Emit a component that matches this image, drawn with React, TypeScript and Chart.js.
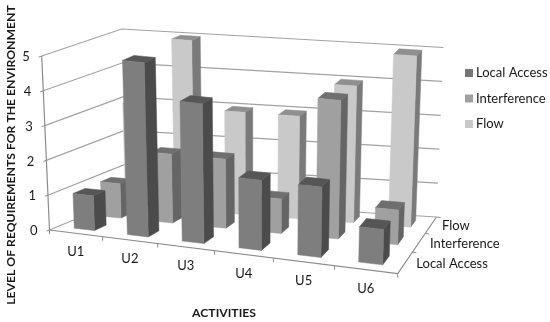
import React, { useEffect, useRef } from "react";
import { Chart, registerables } from "chart.js";

Chart.register(...registerables);

const categories = ["U1", "U2", "U3", "U4", "U5", "U6"];
const seriesNames = ["Local Access", "Interference", "Flow"];
const localAccess = [1, 5, 4, 2, 2, 1];
const interference = [1, 2, 2, 1, 4, 1];
const flow = [3, 5, 3, 3, 4, 5];
const seriesValues = [localAccess, interference, flow];
const frontColors = ["#7e7e7e", "#a0a0a0", "#c9c9c9"];
const sideColors = ["#4b4b4b", "#656565", "#7a7a7a"];
const topColors = ["#565656", "#6f6f6f", "#8f8f8f"];
const legendColors = ["#767676", "#a0a0a0", "#c8c8c8"];
const legendRows = [73, 98.5, 124];

const FONT = "Lato, 'Open Sans', sans-serif";
const TEXT = "#1a1a1a";
const AXIS = "#8c8c8c";
const BAR_U = 0.385 / 2; // half a bar, as a share of one category
const BAR_D = 0.21; // half a bar, as a share of one depth slot
const WARP_U = 1.11;
const WARP_D = 0.82;

type Pt = [number, number];
type Quad = [Pt, Pt, Pt, Pt];
const floorQuad: Quad = [[49.5, 230], [397.7, 273.7], [436.5, 217], [126.5, 198]];
const roofQuad: Quad = [[41.7, 56], [403, 96], [443.5, 47.5], [121.7, 29]];

const warp = (s: number, k: number) => s / (s + k * (1 - s));
const bilinear = (q: Quad, u: number, v: number): Pt => {
  const f = (i: 0 | 1) =>
    q[0][i] * (1 - u) * (1 - v) + q[1][i] * u * (1 - v) + q[2][i] * u * v + q[3][i] * (1 - u) * v;
  return [f(0), f(1)];
};
const project = (u: number, d: number, t: number): Pt => {
  const a = warp(u, WARP_U), b = warp(d, WARP_D);
  const p = bilinear(floorQuad, a, b);
  const r = bilinear(roofQuad, a, b);
  return [p[0] + (r[0] - p[0]) * t, p[1] + (r[1] - p[1]) * t];
};

const box3d = {
  id: "box3d",
  beforeDatasetDraw: () => false,
  afterDraw(chart: any) {
    const { ctx, scales } = chart;
    const xs = scales.x, ys = scales.y, ds = scales.depth;
    const U = (i: number) => (xs.getPixelForValue(i) - xs.left) / xs.width;
    const D = (j: number) => (ds.getPixelForValue(j) - ds.left) / ds.width;
    const T = (v: number) => (ys.bottom - ys.getPixelForValue(v)) / (ys.bottom - ys.top);
    const slotU = 1 / categories.length;
    const slotD = 1 / seriesNames.length;

    const line = (pts: Pt[], color: string, w: number) => {
      ctx.beginPath();
      pts.forEach((p, i) => (i ? ctx.lineTo(p[0], p[1]) : ctx.moveTo(p[0], p[1])));
      ctx.strokeStyle = color;
      ctx.lineWidth = w;
      ctx.stroke();
    };
    const face = (pts: Pt[], color: string) => {
      ctx.beginPath();
      pts.forEach((p, i) => (i ? ctx.lineTo(p[0], p[1]) : ctx.moveTo(p[0], p[1])));
      ctx.closePath();
      ctx.fillStyle = color;
      ctx.fill();
      ctx.strokeStyle = color;
      ctx.lineWidth = 0.5;
      ctx.stroke();
    };

    ctx.save();
    // walls
    ys.ticks.forEach((tick: any) => {
      const t = T(tick.value);
      line([project(0, 0, t), project(0, 1, t), project(1, 1, t)], "#a2a2a2", 1.2);
    });
    line([project(0, 0, 0), project(0, 0, 1)], AXIS, 1.2);
    line([project(0, 0, 0), project(1, 0, 0), project(1, 1, 0)], AXIS, 1.2);
    ys.ticks.forEach((tick: any) => {
      const p = project(0, 0, T(tick.value));
      line([p, [p[0] - 3, p[1] + 1]], AXIS, 1);
    });
    categories.forEach((_, i) => {
      const p = project((i + 1) * slotU, 0, 0);
      line([p, [p[0], p[1] + 4]], AXIS, 1);
    });
    line([project(0, 0, 0), [project(0, 0, 0)[0], project(0, 0, 0)[1] + 4]], AXIS, 1);
    seriesNames.forEach((_, j) => {
      const p = project(1, (j + 1) * slotD, 0);
      line([p, [p[0] + 4, p[1] + 0.5]], AXIS, 1);
    });

    // boxes, far row first, left to right
    for (let j = seriesNames.length - 1; j >= 0; j--) {
      const dc = D(j);
      const d0 = dc - BAR_D * slotD * 1, d1 = dc + BAR_D * slotD * 1;
      seriesValues[j].forEach((v, i) => {
        const uc = U(i);
        const u0 = uc - BAR_U * slotU, u1 = uc + BAR_U * slotU;
        const t = T(v);
        face([project(u1, d0, 0), project(u1, d1, 0), project(u1, d1, t), project(u1, d0, t)], sideColors[j]);
        face([project(u0, d0, t), project(u1, d0, t), project(u1, d1, t), project(u0, d1, t)], topColors[j]);
        face([project(u0, d0, 0), project(u1, d0, 0), project(u1, d0, t), project(u0, d0, t)], frontColors[j]);
      });
    }

    // text
    ctx.fillStyle = TEXT;
    ctx.font = `13px ${FONT}`;
    ctx.textBaseline = "middle";
    ctx.textAlign = "right";
    ys.ticks.forEach((tick: any) => {
      const p = project(0, 0, T(tick.value));
      ctx.fillText(String(tick.value), p[0] - 12, p[1] + 1);
    });
    ctx.textAlign = "center";
    categories.forEach((c, i) => {
      const p = project(U(i), 0, 0);
      ctx.fillText(c, p[0], p[1] + 19);
    });
    ctx.textAlign = "left";
    seriesNames.forEach((s, j) => {
      const p = project(1, D(j), 0);
      ctx.fillText(s, p[0] + 11, p[1] + 1);
    });
    seriesNames.forEach((s, j) => {
      ctx.fillStyle = legendColors[j];
      ctx.fillRect(465, legendRows[j] - 4, 8, 8);
      ctx.fillStyle = TEXT;
      ctx.fillText(s, 476, legendRows[j]);
    });
    ctx.font = `bold 12.2px ${FONT}`;
    ctx.textAlign = "center";
    ctx.fillText("ACTIVITIES", 224, 313);
    ctx.save();
    ctx.translate(11, 155);
    ctx.rotate(-Math.PI / 2);
    ctx.fillText("LEVEL OF REQUIREMENTS FOR THE ENVIRONMENT", 0, 0);
    ctx.restore();
    ctx.restore();
  },
};

export default function App() {
  const ref = useRef<HTMLCanvasElement>(null);
  useEffect(() => {
    const chart = new Chart(ref.current!, {
      type: "bar",
      data: {
        labels: categories,
        datasets: seriesNames.map((name, j) => ({
          label: name,
          data: seriesValues[j],
          backgroundColor: frontColors[j],
        })),
      },
      options: {
        responsive: false,
        animation: false,
        layout: { padding: 0 },
        plugins: { legend: { display: false }, tooltip: { enabled: false } },
        scales: {
          x: { display: false, type: "category" },
          y: { display: false, min: 0, max: 5, ticks: { stepSize: 1 } },
          depth: { display: false, type: "category", axis: "x", labels: seriesNames, offset: true },
        },
      },
      plugins: [box3d],
    } as any);
    return () => chart.destroy();
  }, []);
  return (
    <div style={{ position: "fixed", left: 0, top: 0, width: 550, height: 322, background: "#fff" }}>
      <canvas ref={ref} width={550} height={322} style={{ display: "block" }} />
    </div>
  );
}
